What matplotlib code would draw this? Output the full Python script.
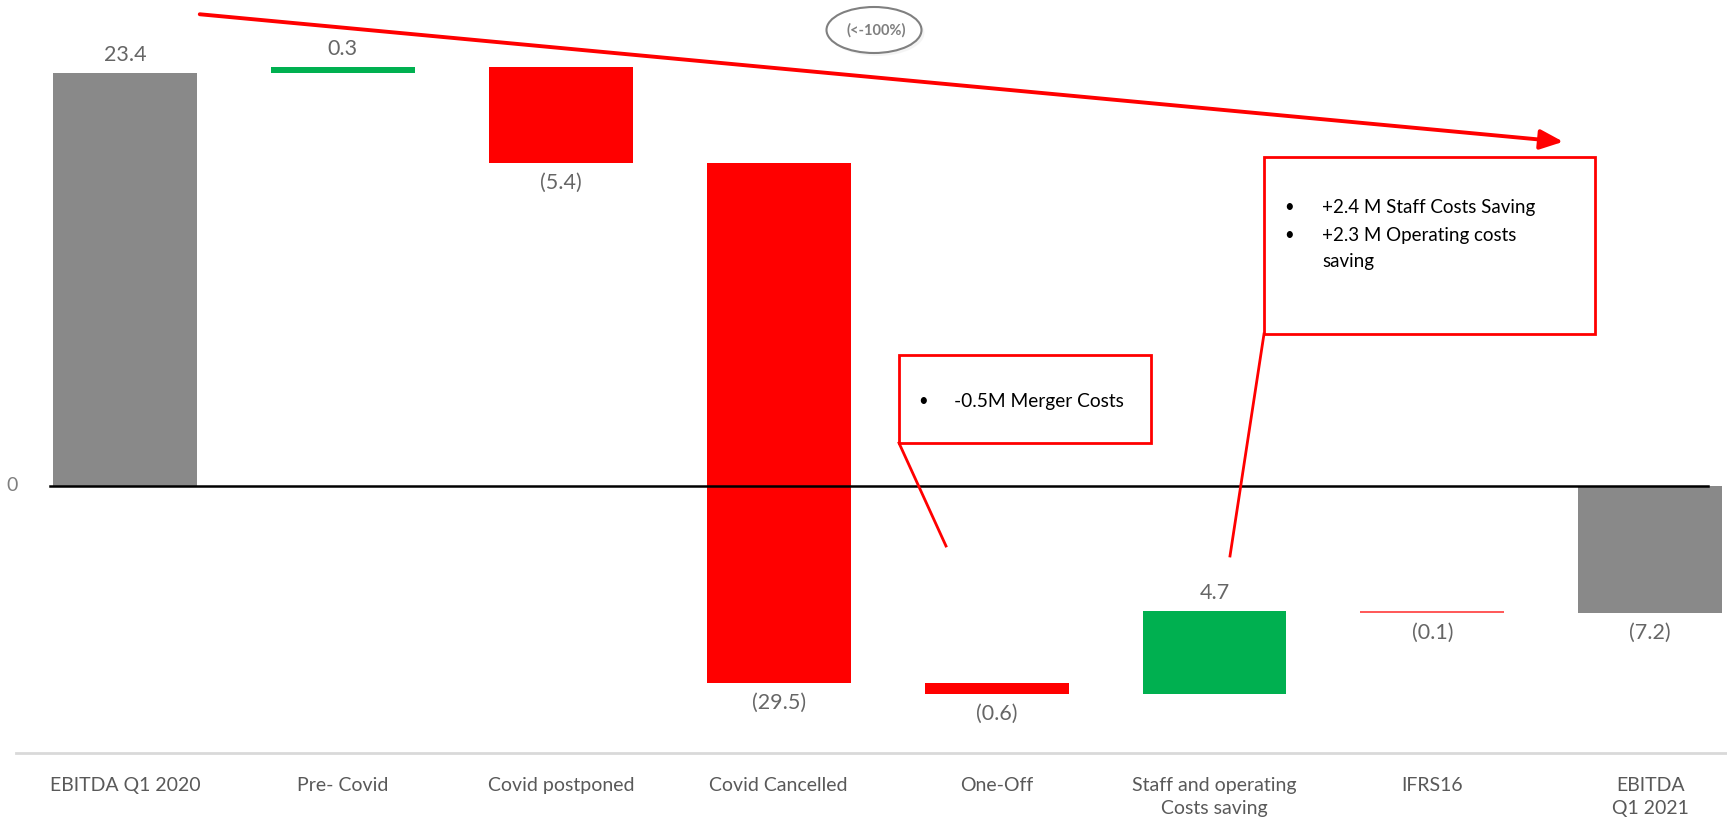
import numpy as np
import matplotlib.pyplot as plt
from matplotlib.patches import Ellipse, Rectangle, FancyArrowPatch

plt.rcParams['font.family'] = ['Lato', 'DejaVu Sans']

categories = ["EBITDA Q1 2020", "Pre- Covid", "Covid postponed", "Covid Cancelled",
              "One-Off", "Staff and operating\nCosts saving", "IFRS16", "EBITDA\nQ1 2021"]
changes = [23.4, 0.3, -5.4, -29.5, -0.6, 4.7, -0.1]
total_2021 = -7.2
value_labels = ["23.4", "0.3", "(5.4)", "(29.5)", "(0.6)", "4.7", "(0.1)", "(7.2)"]

GREY = "#898989"
RED = "#ff0000"
GREEN = "#00b050"
TXT = "#595959"

W, H = 1727, 827
fig = plt.figure(figsize=(W / 100, H / 100), dpi=100)
ax = fig.add_axes([0, 0, 1, 1])
ax.set_axis_off()

# limits chosen so the layout matches the reference page
x0, dx = 125.0, 217.9
y0, dy = 485.7, 17.65
ax.set_xlim(-x0 / dx, (W - x0) / dx)
ax.set_ylim(-(H - y0) / dy, y0 / dy)


def px(x, y):
    # figure-pixel (top-left origin) -> figure fraction
    return (x / W, 1 - y / H)


# waterfall geometry
n = len(categories)
bottoms, heights, colors = [], [], []
running = 0.0
for i, c in enumerate(changes):
    if i == 0:
        bottoms.append(0.0)
        heights.append(c)
        colors.append(GREY)
    else:
        bottoms.append(running + min(c, 0))
        heights.append(abs(c))
        colors.append(GREEN if c > 0 else RED)
    running += c
bottoms.append(min(total_2021, 0))
heights.append(abs(total_2021))
colors.append(GREY)
colors[6] = "#ff5b5b"

xs = np.arange(n)
ax.bar(xs, heights, bottom=bottoms, width=0.66, color=colors, linewidth=0, zorder=2)

# value labels
vals = changes + [total_2021]
for i, v in enumerate(vals):
    top = bottoms[i] + heights[i]
    if v >= 0:
        ax.text(xs[i], top + 0.45, value_labels[i], ha="center", va="bottom",
                fontsize=15.5, color="#666666")
    else:
        ax.text(xs[i], bottoms[i] - 0.55, value_labels[i], ha="center", va="top",
                fontsize=15.5, color="#666666")

# zero axis
ax.plot([-0.344, 7.265], [0, 0], color="black", lw=1.8, zorder=3)
ax.text(-0.52, 0, "0", ha="center", va="center", fontsize=14, color="#7f7f7f")

# bottom separator and category labels
ax.plot([-0.50, 7.35], [-15.13, -15.13], color="#d9d9d9", lw=2, zorder=1)
for i, lab in enumerate(categories):
    ax.text(xs[i], -16.5, lab, ha="center", va="top", fontsize=14,
            color=TXT, linespacing=1.45)

# big red trend arrow
arr = FancyArrowPatch(px(197, 14), px(1566, 142), transform=fig.transFigure,
                      arrowstyle="-|>,head_length=14,head_width=6",
                      color=RED, lw=2.8, mutation_scale=1)
fig.patches.append(arr)

# ellipse with (<-100%)
sh = Ellipse((877 / W, 1 - 33 / H), 95 / W, 46 / H, transform=fig.transFigure,
             facecolor="#eeeeee", edgecolor="none", alpha=0.6)
fig.patches.append(sh)
ell = Ellipse((874 / W, 1 - 30 / H), 95 / W, 46 / H, transform=fig.transFigure,
              facecolor="white", edgecolor="#808080", lw=1.5)
fig.patches.append(ell)
fig.text(*px(876, 30), "(<-100%)", ha="center", va="center", fontsize=10.5,
         fontweight="bold", color="#7f7f7f", zorder=6)


# callout boxes
def callout(x1, y1, x2, y2, tail):
    r = Rectangle(px(x1, y2), (x2 - x1) / W, (y2 - y1) / H, transform=fig.transFigure,
                  facecolor="white", edgecolor=RED, lw=2, zorder=5)
    fig.patches.append(r)
    (xa, ya), (xb, yb) = px(x1, y2), px(*tail)
    fig.add_artist(plt.Line2D([xa, xb], [ya, yb], transform=fig.transFigure,
                              color=RED, lw=2))


def note(x, y, s, **kw):
    fig.text(*px(x, y), s, va="center", color="black", zorder=6, **kw)


callout(899, 355, 1151, 443, (946, 546))
note(923, 401, "•", ha="center", fontsize=12)
note(954, 401, "-0.5M Merger Costs", ha="left", fontsize=13.8)

callout(1264, 157, 1595, 334, (1230, 556))
note(1289, 207, "•", ha="center", fontsize=12)
note(1289, 235, "•", ha="center", fontsize=12)
note(1322, 207, "+2.4 M Staff Costs Saving", ha="left", fontsize=13.5)
note(1322, 235, "+2.3 M Operating costs", ha="left", fontsize=13.5)
note(1322, 262, "saving", ha="left", fontsize=13.5)

fig.savefig("out.png", dpi=100, facecolor="white")
